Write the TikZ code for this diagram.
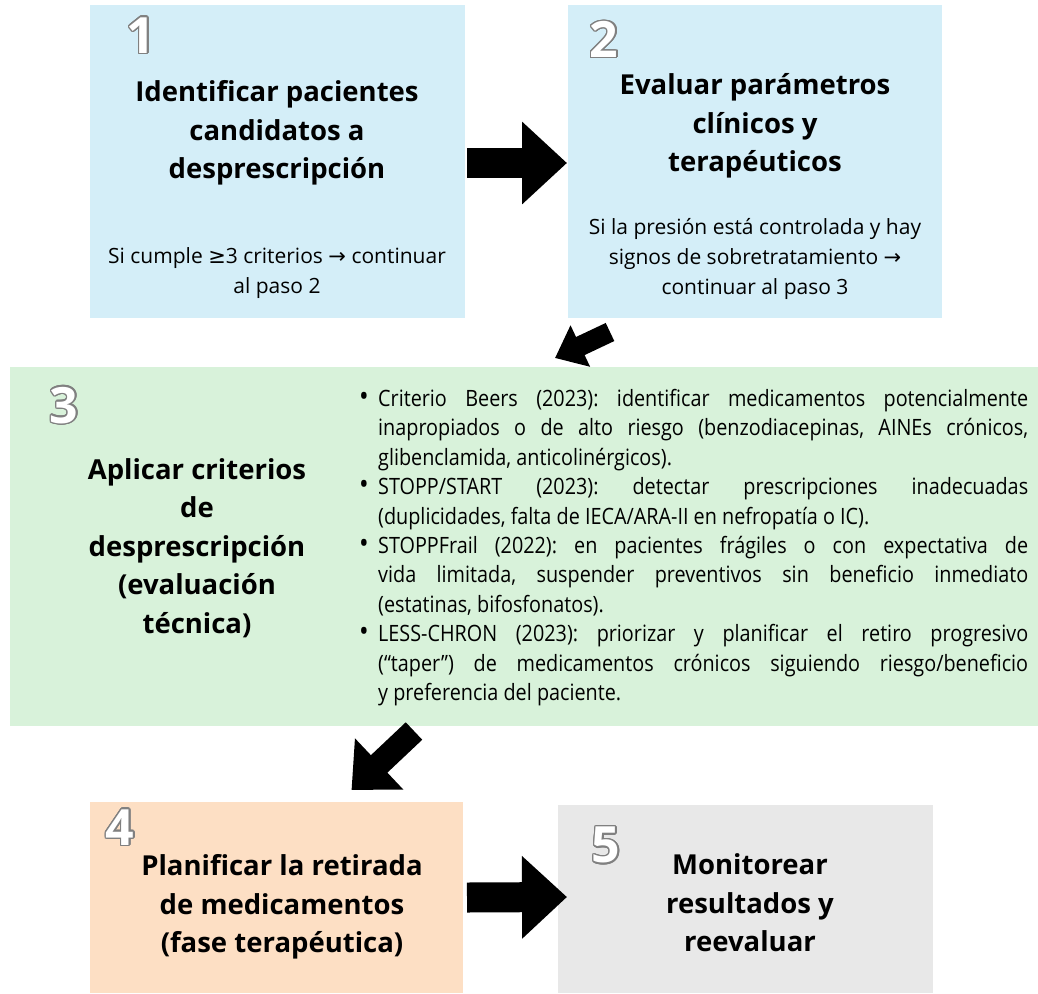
\documentclass[tikz,border=0pt]{standalone}
\usepackage{fontspec}
\setmainfont{Open Sans}
\newfontfamily\symfont{DejaVu Sans}
\newfontfamily\listfont[FakeStretch=0.88]{Open Sans}
\usepackage{contour}
\contourlength{1.4pt}
\usetikzlibrary{arrows.meta,calc}

\definecolor{boxblue}{HTML}{D4EEF8}
\definecolor{boxgreen}{HTML}{D8F2DA}
\definecolor{boxpeach}{HTML}{FDDFC4}
\definecolor{boxgray}{HTML}{E8E8E8}
\definecolor{numgray}{HTML}{808080}

\newcommand{\stepnum}[1]{\contour{numgray}{\textcolor{white}{#1}}}
\newcommand{\critem}[1]{\hangindent=20pt\hangafter=1\noindent\makebox[20pt][l]{\hspace{1pt}\scalebox{1.3}{•}}#1\par}

\begin{document}
\begin{tikzpicture}[x=1pt,y=-1pt,
  box/.style={inner sep=0pt, outer sep=0pt},
  title/.style={font=\fontsize{27.5}{38.5}\selectfont\bfseries, align=center},
  note/.style={font=\fontsize{21}{30}\selectfont, align=center},
  num/.style={font=\fontsize{50}{50}\selectfont\bfseries, inner sep=0pt},
  bigarrow/.style={line width=30pt, -{Triangle[length=45pt,width=80pt]}},
  ]
  \useasboundingbox (0,0) rectangle (1038,993);

  % the five steps
  \node[box, fill=boxblue, minimum width=375pt, minimum height=313pt] (b1) at (277.5,161.5) {};
  \node[box, fill=boxblue, minimum width=374pt, minimum height=313pt] (b2) at (755,161.5) {};
  \node[box, fill=boxgreen, minimum width=1028pt, minimum height=359pt] (b3) at (524,546.5) {};
  \node[box, fill=boxpeach, minimum width=373pt, minimum height=191pt] (b4) at (276.5,897.5) {};
  \node[box, fill=boxgray, minimum width=375pt, minimum height=188pt] (b5) at (745.5,899) {};

  \node[num] (n1) at (141,36) {\stepnum{1}};
  \node[num] (n2) at (604,40) {\stepnum{2}};
  \node[num] (n3) at (64,406) {\stepnum{3}};
  \node[num] (n4) at (120,828) {\stepnum{4}};
  \node[num] (n5) at (606,846) {\stepnum{5}};

  \node[title] (t1) at (277,133) {Identificar pacientes\\candidatos a\\desprescripción};
  \node[note] (s1) at (277,273) {Si cumple {\symfont ≥}3 criterios {\symfont →} continuar\\al paso 2};
  \node[title] (t2) at (755,126) {Evaluar parámetros\\clínicos y\\terapéuticos};
  \node[note] (s2) at (755,259) {Si la presión está controlada y hay\\signos de sobretratamiento {\symfont →}\\continuar al paso 3};
  \node[title] (t3) at (197,548) {Aplicar criterios\\de\\desprescripción\\(evaluación\\técnica)};
  \node[title] (t4) at (282,907) {Planificar la retirada\\de medicamentos\\(fase terapéutica)};
  \node[title] (t5) at (750,903) {Monitorear\\resultados y\\reevaluar};

  \node[anchor=north west, inner sep=0pt, text width=670pt, align=justify,
        font=\listfont\fontsize{22.5}{29.4}\selectfont] (crit) at (358,389) {%
    \frenchspacing\hyphenpenalty=10000\exhyphenpenalty=10000\tolerance=10000
    \critem{Criterio Beers (2023): identificar medicamentos potencialmente\linebreak inapropiados o de alto riesgo (benzodiacepinas, AINEs crónicos,\linebreak glibenclamida, anticolinérgicos).}
    \critem{STOPP/START (2023): detectar prescripciones inadecuadas\linebreak (duplicidades, falta de IECA/ARA-II en nefropatía o IC).}
    \critem{STOPPFrail (2022): en pacientes frágiles o con expectativa de\linebreak vida limitada, suspender preventivos sin beneficio inmediato\linebreak (estatinas, bifosfonatos).}
    \critem{LESS-CHRON (2023): priorizar y planificar el retiro progresivo\linebreak (“taper”) de medicamentos crónicos siguiendo riesgo/beneficio\linebreak y preferencia del paciente.}};

  % arrows between the steps
  \draw[bigarrow] ($(b1.east)+(2,1.5)$) -- ($(b2.west)+(-1,1.5)$);
  \draw[line width=20pt, -{Triangle[length=28pt,width=44pt]}] ($(b2.south west)+(42,14)$) -- ($(b3.north)+(31,-9)$);
  \draw[line width=24pt, -{Triangle[length=38pt,width=68pt]}] ($(b3.south)+(-110,5)$) -- ($(b4.north)+(75,-12)$);
  \draw[bigarrow] ($(b4.east)+(4,0)$) -- ($(b5.west)+(9,-2)$);
\end{tikzpicture}
\end{document}
